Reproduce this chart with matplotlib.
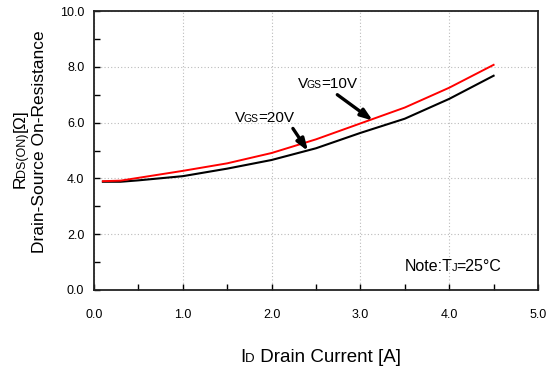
import numpy as np
import matplotlib
matplotlib.use('Agg')
import matplotlib.pyplot as plt
from matplotlib.transforms import IdentityTransform

plt.rcParams['font.family'] = ['Liberation Sans', 'DejaVu Sans']

## Data
drain_current = [0.1, 0.3, 0.5, 1.0, 1.5, 2.0, 2.5, 3.0, 3.5, 4.0, 4.5]
rds_vgs10 = [3.90, 3.92, 4.02, 4.27, 4.54, 4.91, 5.40, 5.97, 6.54, 7.25, 8.07]
rds_vgs20 = [3.88, 3.88, 3.93, 4.08, 4.35, 4.66, 5.08, 5.63, 6.14, 6.85, 7.68]

x_ticks = [0.0, 1.0, 2.0, 3.0, 4.0, 5.0]
y_ticks = [0.0, 2.0, 4.0, 6.0, 8.0, 10.0]

W, H = 549, 369
fig = plt.figure(figsize=(W / 100, H / 100), dpi=100)
ax = fig.add_axes([94 / W, 1 - 290 / H, (538 - 94) / W, (290 - 11) / H])

ax.plot(drain_current, rds_vgs10, color='#ff0000', lw=1.4, zorder=3)
ax.plot(drain_current, rds_vgs20, color='black', lw=1.5, zorder=2)

ax.set_xlim(0, 5)
ax.set_ylim(0, 10)
ax.set_xticks(x_ticks)
ax.set_yticks(y_ticks)
ax.set_xticklabels(['%.1f' % v for v in x_ticks])
ax.set_yticklabels(['%.1f' % v for v in y_ticks])
ax.set_xticks(np.arange(0.5, 5, 1.0), minor=True)
ax.set_yticks(np.arange(1.0, 10, 2.0), minor=True)
ax.tick_params(which='both', direction='in', length=4, width=1, color='black')
ax.tick_params(axis='x', which='major', pad=14, labelsize=9)
ax.tick_params(axis='y', which='major', pad=7, labelsize=9)
ax.grid(True, which='major', linestyle=(0, (1, 2)), color='#bbbbbb', lw=0.8)
for sp in ax.spines.values():
    sp.set_linewidth(1.3)
    sp.set_color('#222222')

## Arrows
arrow_kw = dict(arrowstyle='-|>,head_length=0.7,head_width=0.25', color='black', lw=2.4,
                shrinkA=0, shrinkB=0)
ax.annotate('', xy=(3.14, 6.07), xytext=(2.74, 7.0), arrowprops=arrow_kw)
ax.annotate('', xy=(2.41, 4.98), xytext=(2.24, 5.79), arrowprops=arrow_kw)

renderer = fig.canvas.get_renderer()


def rich(x, y, parts, rotation=0):
    # x, y in image pixels (top-left origin), start of baseline
    # parts: (text, fontsize, gap in pixels after it)
    pos = 0
    for s, size, gap in parts:
        if rotation == 0:
            px, py = x + pos, H - y
        else:
            px, py = x, H - y + pos
        t = fig.text(px, py, s, transform=IdentityTransform(), fontsize=size,
                     rotation=rotation, rotation_mode='anchor',
                     ha='left', va='baseline')
        bb = t.get_window_extent(renderer)
        pos += (bb.width if rotation == 0 else bb.height) + gap


big, small = 11, 7.5
rich(298, 88, [('V', big, -1.2), ('GS', small, -0.3), ('=10V', big, 0)])
rich(235, 122, [('V', big, -1.2), ('GS', small, -0.3), ('=20V', big, 0)])
rich(405, 271, [('Note:T', 11.5, -1.2), ('J', 8, -1), ('=25°C', 11.5, 0)])
rich(240, 362, [('I', 13.5, 0), ('D', 9.5, 0), (' Drain Current [A]', 13.5, 0)])
rich(25, 188, [('R', 12.5, -1.2), ('DS(ON)', 9, 0), ('[Ω]', 12.5, 0)], rotation=90)
rich(44, 253, [('Drain-Source On-Resistance', 12.5, 0)], rotation=90)

fig.savefig('out.png', dpi=100)
